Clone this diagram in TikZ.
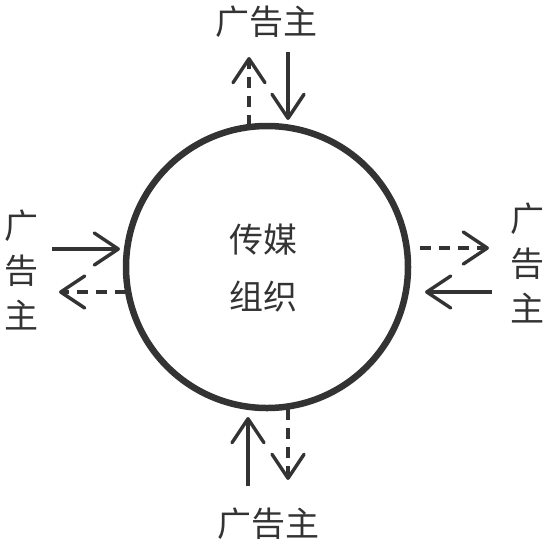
\documentclass[tikz,border=0pt]{standalone}
\usepackage{fontspec}
\setmainfont{Noto Sans CJK SC}
\usetikzlibrary{arrows.meta}
\definecolor{ink}{HTML}{333333}
\begin{document}
\begin{tikzpicture}[x=1pt,y=-1pt,
  arr/.style={draw=ink,line width=3.4pt,-{Straight Barb[length=24pt,width=32pt,line cap=round,line join=round]}},
  dsh/.style={arr,dash pattern=on 11pt off 8pt},
  lab/.style={text=ink,font=\fontsize{34pt}{40pt}\selectfont,inner sep=0pt},
  vlab/.style={lab,align=center,font=\fontsize{34pt}{45pt}\selectfont}]
\useasboundingbox (0,0) rectangle (551,547);
\node[circle,draw=ink,line width=6.5pt,minimum size=282pt,inner sep=0pt] (c) at (267,267) {};
\node[lab] (ct) at (263,240) {传媒};
\node[lab] (cb) at (263,297) {组织};
% top
\node[lab] (t) at (266,22) {广告主};
\coordinate (t1a) at (249,126); \coordinate (t1b) at (249,57);
\coordinate (t2a) at (288,52); \coordinate (t2b) at (288,120);
\draw[dsh] (t1a) -- (t1b);
\draw[arr] (t2a) -- (t2b);
% bottom
\node[lab] (b) at (268,524) {广告主};
\coordinate (b1a) at (248,486); \coordinate (b1b) at (248,417);
\coordinate (b2a) at (288,409); \coordinate (b2b) at (288,480);
\draw[arr] (b1a) -- (b1b);
\draw[dsh] (b2a) -- (b2b);
% left
\node[vlab] (l) at (22,270) {广\\告\\主};
\coordinate (l1a) at (52,249); \coordinate (l1b) at (120,249);
\coordinate (l2a) at (126,292); \coordinate (l2b) at (59,292);
\draw[arr] (l1a) -- (l1b);
\draw[dsh] (l2a) -- (l2b);
% right
\node[vlab] (r) at (527,263) {广\\告\\主};
\coordinate (r1a) at (420,248); \coordinate (r1b) at (489,248);
\coordinate (r2a) at (492,292); \coordinate (r2b) at (425,292);
\draw[dsh] (r1a) -- (r1b);
\draw[arr] (r2a) -- (r2b);
\end{tikzpicture}
\end{document}
